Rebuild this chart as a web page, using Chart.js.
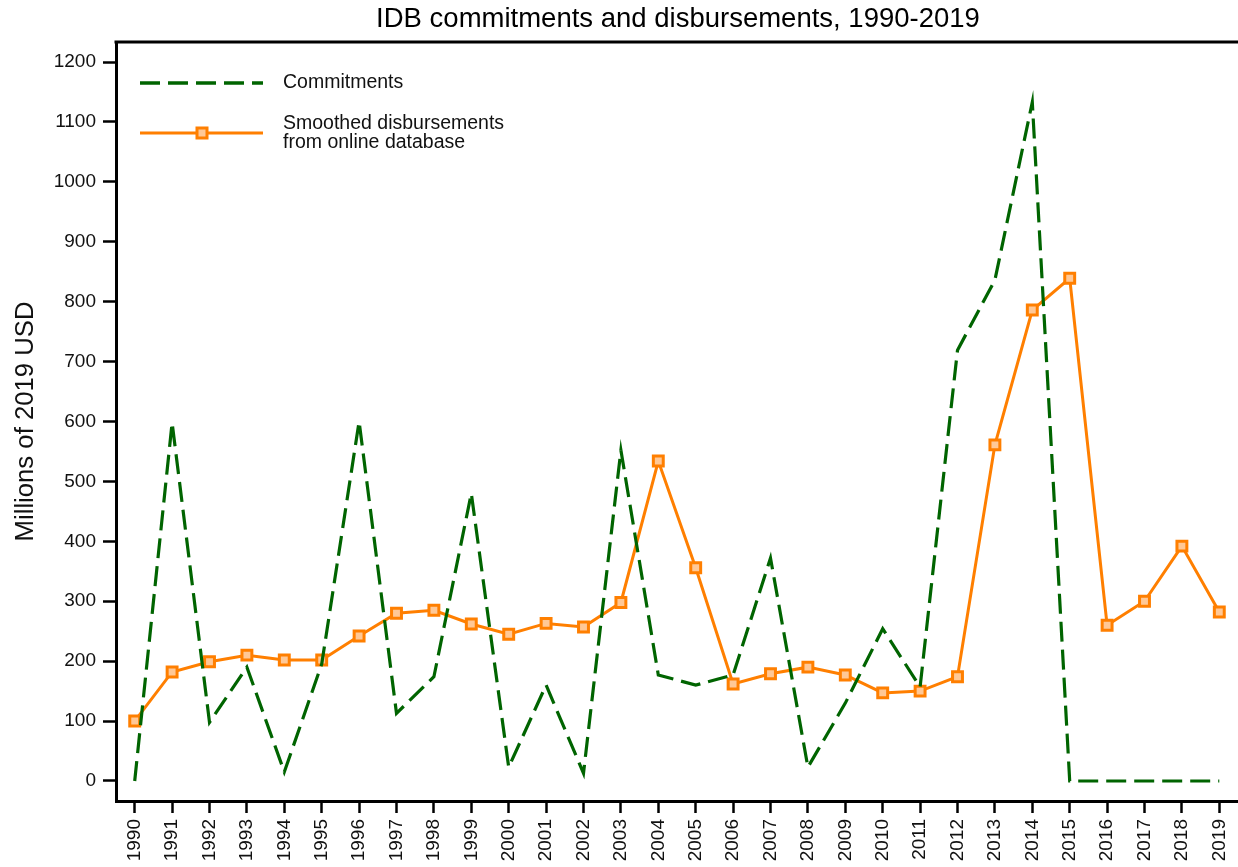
<!DOCTYPE html>
<html>
<head>
<meta charset="utf-8">
<script src="https://cdn.jsdelivr.net/npm/chart.js@4/dist/chart.umd.min.js"></script>
<style>
  html, body { margin: 0; padding: 0; background: #fff; }
  #wrap { width: 1238px; height: 867px; position: relative; }
</style>
</head>
<body>
<div id="wrap"><canvas id="c" width="1238" height="867"></canvas></div>
<script>
const years = ['1990','1991','1992','1993','1994','1995','1996','1997','1998','1999',
  '2000','2001','2002','2003','2004','2005','2006','2007','2008','2009',
  '2010','2011','2012','2013','2014','2015','2016','2017','2018','2019'];
const commitments = [0,598,98,190,15,195,600,113,174,480,
  23,160,13,552,177,160,177,372,23,130,
  254,157,719,836,1133,0,0,0,0,0];
const disbursements = [100,182,199,210,202,202,242,280,285,262,
  245,263,257,298,534,356,162,179,190,177,
  147,150,174,561,786,839,260,300,392,282];
const yTickValues = [0,100,200,300,400,500,600,700,800,900,1000,1100,1200];
const titleText = 'IDB commitments and disbursements, 1990-2019';
const yTitle = 'Millions of 2019 USD';
const seriesNames = ['Commitments', ['Smoothed disbursements', 'from online database']];

const GREEN = '#006400';
const ORANGE = '#ff7f00';
const PEACH = '#ffc896';
const FONT = "'Liberation Sans', Arial, sans-serif";

const decor = {
  id: 'decor',
  afterDraw(chart) {
    const ctx = chart.ctx;
    const a = chart.chartArea;
    ctx.save();
    // top border
    ctx.strokeStyle = '#000';
    ctx.lineWidth = 3;
    ctx.beginPath();
    ctx.moveTo(a.left - 1.5, a.top);
    ctx.lineTo(a.right, a.top);
    ctx.stroke();
    // title
    ctx.fillStyle = '#000';
    ctx.font = '27.5px ' + FONT;
    ctx.textAlign = 'center';
    ctx.textBaseline = 'middle';
    ctx.fillText(titleText, 678, 19);
    // legend
    const lx0 = 140, lx1 = 263;
    ctx.lineWidth = 3.5;
    ctx.strokeStyle = GREEN;
    ctx.setLineDash([20, 8]);
    ctx.beginPath(); ctx.moveTo(lx0, 83); ctx.lineTo(lx1, 83); ctx.stroke();
    ctx.setLineDash([]);
    ctx.lineWidth = 3;
    ctx.strokeStyle = ORANGE;
    ctx.beginPath(); ctx.moveTo(lx0, 133); ctx.lineTo(lx1, 133); ctx.stroke();
    ctx.fillStyle = PEACH;
    ctx.fillRect(197, 128, 10, 10);
    ctx.strokeRect(197, 128, 10, 10);
    ctx.fillStyle = '#111';
    ctx.font = '19.5px ' + FONT;
    ctx.textAlign = 'left';
    ctx.fillText(seriesNames[0], 283, 83);
    ctx.fillText(seriesNames[1][0], 283, 124);
    ctx.fillText(seriesNames[1][1], 283, 143);
    ctx.restore();
  }
};

new Chart(document.getElementById('c'), {
  type: 'line',
  data: {
    labels: years,
    datasets: [
      {
        label: 'Commitments',
        data: commitments,
        borderColor: GREEN,
        borderWidth: 3.2,
        borderDash: [20, 8],
        pointRadius: 0,
        fill: false,
        tension: 0
      },
      {
        label: 'Smoothed disbursements from online database',
        data: disbursements,
        borderColor: ORANGE,
        borderWidth: 3,
        pointStyle: 'rect',
        pointRadius: 7,
        pointBorderWidth: 3,
        pointBackgroundColor: PEACH,
        pointBorderColor: ORANGE,
        fill: false,
        tension: 0
      }
    ]
  },
  options: {
    responsive: false,
    animation: false,
    events: [],
    layout: { autoPadding: false, padding: { top: 42, left: 0, right: 0, bottom: 0 } },
    plugins: {
      legend: { display: false },
      title: { display: false },
      tooltip: { enabled: false }
    },
    scales: {
      x: {
        type: 'category',
        offset: true,
        grid: { display: true, drawOnChartArea: false, color: '#000', tickLength: 12, tickWidth: 2.5, offset: false },
        border: { display: true, color: '#000', width: 3 },
        ticks: {
          autoSkip: false,
          minRotation: 90,
          maxRotation: 90,
          padding: 6,
          color: '#111',
          font: { family: FONT, size: 19 }
        },
        afterFit(scale) {
          scale.height = 66;
          scale.paddingLeft = 0; scale.paddingRight = 0;
          scale.paddingTop = 0; scale.paddingBottom = 0;
        }
      },
      y: {
        type: 'linear',
        min: -33.4,
        max: 1233.4,
        grid: { display: true, drawOnChartArea: false, color: '#000', tickLength: 13, tickWidth: 2.5 },
        border: { display: true, color: '#000', width: 3 },
        ticks: {
          padding: 7,
          color: '#111',
          font: { family: FONT, size: 19 },
          callback: (v) => String(v)
        },
        title: {
          display: true,
          text: yTitle,
          color: '#111',
          font: { family: FONT, size: 25.7 },
          padding: { top: 10, bottom: 0 }
        },
        afterBuildTicks(scale) {
          scale.ticks = yTickValues.map(v => ({ value: v }));
        },
        afterFit(scale) {
          scale.width = 116;
          scale.paddingLeft = 0; scale.paddingRight = 0;
          scale.paddingTop = 0; scale.paddingBottom = 0;
        }
      }
    }
  },
  plugins: [decor]
});
</script>
</body>
</html>
